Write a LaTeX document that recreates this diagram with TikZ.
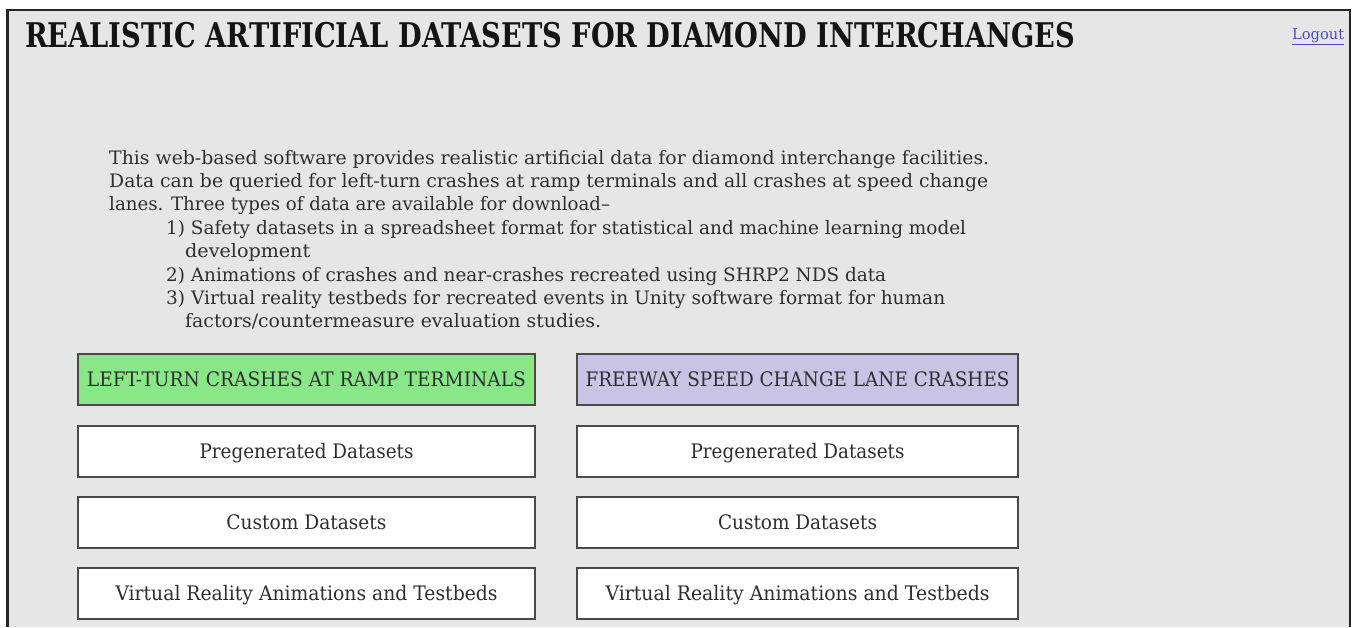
\documentclass[tikz,border=0pt]{standalone}
\usepackage{fontspec}
\usepackage{graphicx}
\setmainfont{DejaVu Serif}
\newcommand{\fw}[2]{\resizebox{#1}{\height}{#2}}
\definecolor{panelbg}{HTML}{E6E6E6}
\definecolor{frame}{HTML}{262626}
\definecolor{btnline}{HTML}{4A4A4A}
\definecolor{btngreen}{HTML}{88E888}
\definecolor{btnpurple}{HTML}{C9C3E6}
\definecolor{bodytext}{HTML}{2E2E2E}
\definecolor{linkblue}{HTML}{4B4BC8}
\tikzset{
  para/.style={anchor=base west, inner sep=0pt, text=bodytext, font=\fontsize{18.5}{22}\selectfont},
  btn/.style={draw=btnline, line width=1.8pt, fill=white, inner sep=0pt,
    text height=16pt, text depth=3pt, text=bodytext, font=\fontsize{20}{24}\selectfont},
  leftbtn/.style={btn, minimum width=457pt, minimum height=51pt},
  rightbtn/.style={btn, minimum width=441pt, minimum height=51pt}
}
\begin{document}
\begin{tikzpicture}[x=1pt,y=-1pt]
\useasboundingbox (0,0) rectangle (1353,627);
\fill[white] (0,0) rectangle (1353,627);
\fill[panelbg] (7.5,10) rectangle (1350,627);
\draw[frame, line width=2.6pt] (7.5,627) -- (7.5,10) -- (1350,10) -- (1350,627);
% title
\node[anchor=base west, inner sep=0pt, text=black!92, font=\fontsize{34}{40}\selectfont\bfseries] (title) at (25,47)
  {\fw{1050pt}{REALISTIC ARTIFICIAL DATASETS FOR DIAMOND INTERCHANGES}};
\node[anchor=base west, inner sep=0pt, text=linkblue, font=\fontsize{15}{18}\selectfont] (logout) at (1292,39)
  {\fw{52pt}{\underline{Logout}}};
% paragraph
\node[para] (p1) at (109,164) {\fw{880pt}{This web-based software provides realistic artificial data for diamond interchange facilities.}};
\node[para] (p2) at (109,187.4) {\fw{879pt}{Data can be queried for left-turn crashes at ramp terminals and all crashes at speed change}};
\node[para] (p3) at (109,210.8) {\fw{501pt}{lanes. Three types of data are available for download–}};
\node[para] (p4) at (166,234.2) {\fw{800pt}{1) Safety datasets in a spreadsheet format for statistical and machine learning model}};
\node[para] (p5) at (185,257.6) {\fw{125pt}{development}};
\node[para] (p6) at (166,281) {\fw{720pt}{2) Animations of crashes and near-crashes recreated using SHRP2 NDS data}};
\node[para] (p7) at (166,304.4) {\fw{779pt}{3) Virtual reality testbeds for recreated events in Unity software format for human}};
\node[para] (p8) at (185,327.8) {\fw{416pt}{factors/countermeasure evaluation studies.}};
% buttons left
\node[leftbtn, fill=btngreen] (l1) at (306.5,379.5) {\fw{439pt}{LEFT-TURN CRASHES AT RAMP TERMINALS}};
\node[leftbtn] (l2) at (306.5,451.5) {\fw{214pt}{Pregenerated Datasets}};
\node[leftbtn] (l3) at (306.5,522.5) {\fw{160pt}{Custom Datasets}};
\node[leftbtn] (l4) at (306.5,593.5) {\fw{382pt}{Virtual Reality Animations and Testbeds}};
% buttons right
\node[rightbtn, fill=btnpurple] (r1) at (797.5,379.5) {\fw{424pt}{FREEWAY SPEED CHANGE LANE CRASHES}};
\node[rightbtn] (r2) at (797.5,451.5) {\fw{214pt}{Pregenerated Datasets}};
\node[rightbtn] (r3) at (797.5,522.5) {\fw{159pt}{Custom Datasets}};
\node[rightbtn] (r4) at (797.5,593.5) {\fw{384pt}{Virtual Reality Animations and Testbeds}};
\end{tikzpicture}
\end{document}
